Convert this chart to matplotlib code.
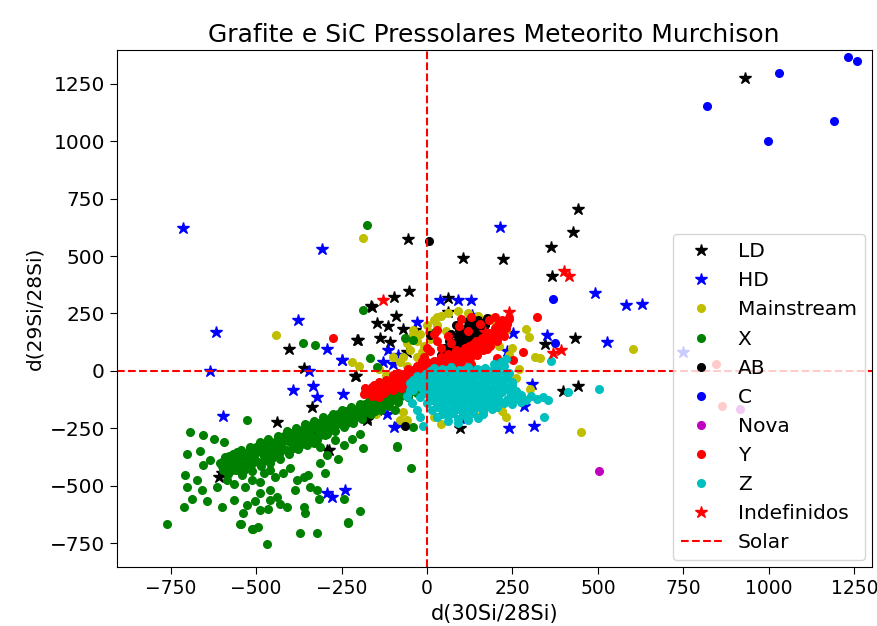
import numpy as np
import matplotlib
matplotlib.use("Agg")
import matplotlib.pyplot as plt

# d(30Si/28Si), d(29Si/28Si) pairs for each grain population

LD = [(930, 1275), (-56, 574), (106, 490), (60, 317), (-52, 348), (-96, 320),
      (-164, 283), (442, 707), (428, 605), (362, 540), (223, 486), (365, 414),
      (345, 119), (433, 141), (442, -65), (397, -87), (96, -251), (-405, 97),
      (-206, 134), (-359, 13), (-208, -22), (-337, -157), (-162, 279),
      (-91, 238), (-147, 209), (-113, 195), (-71, 184), (-35, 177), (-137, 141),
      (-201, 134), (-108, 126), (-211, -23), (62, 257), (-439, -222),
      (-342, -273), (-293, -345), (-176, -215), (-610, -462), (-599, -446),
      (-288, -345), (-176, -207), (150, 190), (120, 130), (-60, 80)]

HD = [(-713, 623), (-307, 530), (38, 308), (91, 308), (128, 308), (213, 627),
      (491, 341), (581, 286), (628, 293), (252, 166), (350, 158), (527, 126),
      (233, 87), (306, -58), (285, -154), (241, -247), (313, -240), (96, -207),
      (-617, 170), (-378, 221), (-293, 97), (-248, 47), (-634, 0), (-345, 0),
      (-391, -84), (-335, -67), (-323, -113), (-596, -197), (-293, -531),
      (-240, -520), (-279, -549), (-30, 213), (-250, 49), (-113, 90), (-84, 68),
      (131, 242), (-245, -99), (749, 81), (-147, -171), (-98, -244),
      (-118, -186), (-79, -230), (-130, 40), (-100, 30)]

MAINSTREAM = [(-186, 579), (-442, 158), (291, 182), (299, 148), (316, 61),
              (330, 55), (603, 97), (218, -176), (450, -268), (-40, 180),
              (-20, 160), (0, 200), (20, 220), (40, 240), (-60, 120),
              (-30, 130), (-10, 110), (10, 140), (30, 200), (60, 250),
              (90, 262), (120, 250), (150, 240), (180, 228), (200, 215),
              (190, 130), (210, 110), (230, 180), (250, 100), (240, 70),
              (-80, 40), (-100, 60), (-60, 20), (-30, 60), (-120, -20),
              (-140, 10), (-90, -130), (-70, -180), (-150, -190), (-180, -90),
              (-60, -215), (20, -200), (40, -230), (120, -130), (160, -190),
              (200, -90), (260, -30), (300, -80), (270, 10), (230, -200),
              (-200, 20), (-220, 40), (28, 235), (-79, -215), (55, 175),
              (-50, 90), (-15, 80), (-45, 150), (5, 170), (-70, 60)]

GRUPO_X = [(-693, -268), (-654, -280), (-624, -295), (-595, -309), (-702, -363),
           (-664, -348), (-634, -389), (-654, -411), (-707, -454), (-673, -476),
           (-702, -505), (-659, -520), (-615, -505), (-688, -556), (-644, -566),
           (-600, -592), (-710, -595), (-547, -665), (-512, -687), (-493, -679),
           (-469, -752), (-371, -708), (-322, -708), (-410, -592), (-361, -592),
           (-356, -621), (-298, -447), (-322, -520), (-317, -556), (-244, -556),
           (-196, -611), (-230, -662), (-527, -212), (-586, -476), (-566, -491),
           (-532, -505), (-512, -476), (-488, -483), (-478, -447), (-459, -430),
           (-444, -462), (-420, -447), (-400, -425), (-381, -476), (-361, -462),
           (-347, -454), (-342, -505), (-386, -520), (-459, -520), (-488, -534),
           (-503, -566), (-459, -563), (-439, -549), (-430, -578), (-464, -600),
           (-488, -607), (-527, -585), (-537, -621), (-566, -563), (-313, -403),
           (-293, -367), (-269, -302), (-244, -324), (-220, -295), (-196, -273),
           (-186, -338), (-259, -382), (-293, -273), (-332, -316), (-313, -331),
           (-761, -668), (-545, -665), (-508, -687), (-232, -658), (-47, -422),
           (-87, -328), (-87, -331), (-177, 635), (-64, 141), (-42, 134),
           (23, 170), (-167, 54), (-147, 18), (-186, 264), (-362, 122),
           (-329, 112), (-118, -99), (-94, -171), (-40, -244),
           (-605, -400), (-598, -430), (-590, -375), (-582, -448), (-575, -405),
           (-568, -362), (-560, -432), (-553, -388), (-545, -345), (-540, -455),
           (-532, -412), (-525, -368), (-518, -332), (-512, -436), (-505, -392),
           (-498, -350), (-490, -312), (-485, -415), (-478, -372), (-470, -332),
           (-465, -296), (-458, -400), (-450, -355), (-443, -316), (-437, -282),
           (-430, -382), (-423, -338), (-416, -298), (-410, -264), (-404, -360),
           (-396, -318), (-390, -280), (-383, -248), (-377, -342), (-370, -300),
           (-363, -265), (-357, -232), (-350, -322), (-343, -282), (-337, -248),
           (-330, -218), (-323, -300), (-316, -262), (-310, -232), (-303, -200),
           (-297, -280), (-290, -245), (-283, -215), (-276, -186), (-270, -262),
           (-263, -228), (-256, -198), (-250, -172), (-243, -245), (-236, -212),
           (-230, -184), (-223, -158), (-216, -228), (-210, -196), (-203, -170),
           (-196, -146), (-190, -210), (-183, -182), (-176, -156), (-170, -132),
           (-163, -190), (-156, -164), (-150, -140), (-143, -118), (-136, -172),
           (-130, -146), (-123, -124), (-117, -104), (-110, -152), (-103, -128),
           (-97, -106), (-90, -88), (-84, -134), (-77, -110), (-70, -90),
           (-64, -72), (-57, -114), (-50, -94), (-44, -74), (-37, -56),
           (-30, -96), (-24, -76), (-17, -58),
           (-600, -415), (-593, -388), (-586, -420), (-578, -372), (-571, -430),
           (-564, -395), (-556, -352), (-549, -410), (-542, -372), (-536, -430),
           (-528, -390), (-521, -350), (-514, -410), (-507, -372), (-500, -330),
           (-494, -395), (-487, -355), (-480, -318), (-474, -388), (-467, -350),
           (-460, -312), (-454, -378), (-447, -340), (-440, -300), (-433, -362),
           (-426, -322), (-419, -285), (-412, -345), (-406, -305), (-399, -270),
           (-393, -335), (-386, -295), (-380, -262), (-373, -322), (-366, -282),
           (-360, -250), (-353, -305), (-346, -265), (-340, -236), (-333, -290),
           (-326, -250), (-320, -225), (-313, -280), (-306, -240), (-300, -212),
           (-293, -262), (-286, -228), (-280, -200), (-273, -245), (-266, -212),
           (-260, -186), (-253, -230), (-246, -198), (-240, -175), (-233, -225),
           (-226, -190), (-220, -168), (-213, -210), (-206, -180), (-200, -158),
           (-193, -195), (-186, -165), (-180, -145), (-173, -175), (-166, -148),
           (-160, -128), (-153, -175), (-146, -152), (-140, -130), (-133, -158),
           (-126, -135), (-120, -115), (-113, -140), (-106, -118), (-100, -98)]

AB = [(50, 100), (65, 130), (80, 110), (90, 150), (100, 125), (110, 170),
      (115, 140), (125, 190), (130, 160), (140, 205), (145, 175), (150, 220),
      (155, 195), (160, 150), (120, 215), (95, 180), (70, 160), (105, 95),
      (135, 120), (170, 200), (175, 230), (60, 85), (40, 70), (85, 200),
      (7, 566), (-64, -241), (9, 155), (110, 150), (120, 160), (130, 180),
      (140, 150), (150, 170), (95, 140), (85, 125), (160, 175), (165, 210),
      (145, 195), (120, 195), (105, 110)]

GRUPO_C = [(1030, 1295), (820, 1153), (998, 1002), (1191, 1086), (1232, 1368),
           (1258, 1349), (369, 312), (374, 122)]

NOVA = [(503, -435), (915, -167)]

GRUPO_Y = [(-170, -95), (-160, -70), (-150, -105), (-140, -80), (-130, -55),
           (-125, -95), (-115, -70), (-105, -45), (-100, -85), (-90, -60),
           (-80, -35), (-75, -75), (-65, -50), (-55, -25), (-50, -65),
           (-40, -40), (-30, -15), (-25, -55), (-15, -30), (-5, -5), (0, 40),
           (5, -45), (10, -20), (15, 10), (20, 45), (25, -30), (30, -5),
           (35, 25), (40, 60), (45, -15), (50, 10), (55, 40), (60, 75), (70, 0),
           (75, 25), (80, 55), (85, 90), (95, 10), (100, 40), (105, 70),
           (110, 100), (120, 20), (125, 55), (130, 85), (135, 115), (145, 70),
           (150, 100), (155, 130), (165, 90), (170, 120), (175, 150),
           (185, 110), (190, 140), (195, 175), (205, 130), (210, 160),
           (215, 195), (225, 150), (230, 185), (180, 220), (155, 205),
           (120, 175), (95, 195), (60, 150), (30, 180), (20, 160), (-20, 10),
           (-40, 5), (-10, 60), (10, 85), (40, 100), (70, 120), (130, 30),
           (110, 0), (90, -10), (60, -20), (0, 100), (28, 130), (100, 225),
           (130, 235), (200, 235), (220, 220), (-276, 141), (321, 233),
           (282, 80), (251, 47), (204, 54), (175, 97), (844, 28), (863, -152),
           (-165, -80), (-155, -60), (-145, -95), (-135, -68), (-120, -85),
           (-110, -58), (-95, -72), (-85, -48), (-70, -60), (-60, -38),
           (-45, -52), (-35, -25), (-20, -42), (-10, -15), (0, 0), (5, 20),
           (15, -8), (25, 15), (32, 45), (45, 30), (50, 55), (62, 30),
           (68, 62), (78, 40), (88, 70), (92, 45), (102, 85), (108, 55),
           (115, 85), (122, 110), (128, 70), (140, 95), (142, 130), (160, 110),
           (162, 145), (178, 130), (182, 165), (192, 155), (200, 185),
           (208, 200), (220, 170), (235, 205), (240, 225), (-5, 30), (-28, 20),
           (-15, 45), (-55, 10), (-70, -15), (-85, -10), (-100, -20),
           (-120, -40), (-140, -50), (-180, -75), (-185, -100), (-160, -110),
           (-140, -115)]

GRUPO_Z = [(20, 12), (45, 6), (70, 15), (95, 4), (120, 18), (145, 8), (170, 14),
           (195, 30), (215, 40), (232, 52), (-30, -24), (-5, -14), (20, -26),
           (45, -18), (70, -28), (95, -16), (120, -24), (145, -12), (170, -22),
           (195, -14), (220, -20), (240, -8), (-50, -52), (-25, -44),
           (0, -56), (25, -48), (50, -58), (75, -46), (100, -54), (125, -44),
           (150, -56), (175, -46), (200, -52), (225, -42), (250, -50),
           (-40, -84), (-15, -76), (10, -88), (35, -78), (60, -86), (85, -74),
           (110, -84), (135, -76), (160, -88), (185, -78), (210, -84),
           (235, -76), (260, -86), (-20, -112), (5, -104), (30, -116),
           (55, -106), (80, -114), (105, -102), (130, -112), (155, -104),
           (180, -116), (205, -106), (233, -128), (262, -118), (291, -128),
           (321, -122), (355, -126), (0, -142), (25, -134), (50, -146),
           (75, -136), (100, -144), (125, -134), (150, -146), (175, -136),
           (200, -142), (225, -138), (250, -146), (275, -134), (15, -172),
           (40, -164), (65, -176), (90, -166), (115, -174), (140, -162),
           (165, -176), (190, -166), (30, -202), (60, -196), (90, -208),
           (120, -198), (150, -204), (-11, -241), (343, -203), (504, -80),
           (411, -94), (363, 44),
           (8, -2), (32, -4), (58, 2), (82, -6), (108, 4), (132, -4), (158, 2),
           (182, -2), (205, 10), (225, 22), (-40, -38), (-15, -32), (10, -40),
           (35, -34), (60, -42), (85, -32), (110, -40), (135, -30), (160, -40),
           (185, -32), (210, -36), (235, -28), (-30, -68), (-5, -62),
           (22, -70), (48, -64), (72, -70), (98, -60), (122, -68), (148, -62),
           (172, -70), (198, -64), (222, -68), (248, -62), (-10, -98),
           (18, -92), (42, -98), (68, -90), (92, -98), (118, -92), (142, -98),
           (168, -90), (192, -98), (218, -94), (245, -100), (275, -104),
           (305, -110), (338, -112), (12, -128), (38, -122), (62, -128),
           (88, -120), (112, -126), (138, -120), (162, -128), (188, -122),
           (212, -126), (238, -122), (28, -156), (52, -150), (78, -156),
           (102, -150), (128, -156), (152, -150), (178, -154), (205, -158),
           (45, -186), (75, -182), (105, -188), (135, -184), (165, -190),
           (60, -218), (90, -226), (120, -216), (-60, -110), (-45, -140),
           (-30, -170), (-20, -200), (-50, -85)]

INDEFINIDOS = [(-130, 308), (402, 436), (416, 414), (241, 257), (369, 78),
               (391, 90), (170, 170), (60, 60)]

# (label, points, plot format) in drawing order
grupos = [
    ("LD", LD, "k*"),
    ("HD", HD, "b*"),
    ("Mainstream", MAINSTREAM, "yo"),
    ("X", GRUPO_X, "go"),
    ("AB", AB, "ko"),
    ("C", GRUPO_C, "bo"),
    ("Nova", NOVA, "mo"),
    ("Y", GRUPO_Y, "ro"),
    ("Z", GRUPO_Z, "co"),
    ("Indefinidos", INDEFINIDOS, "r*"),
]

fig = plt.figure(figsize=(8.77, 6.26), dpi=100)
ax = fig.add_axes([0.133, 0.094, 0.861, 0.826])

for nome, pts, fmt in grupos:
    p = np.array(pts, dtype=float)
    ms = 9 if fmt.endswith("*") else 5.5
    ax.plot(p[:, 0], p[:, 1], fmt, markersize=ms, label=nome)

ax.axhline(0, color="r", linestyle="--", label="Solar")
ax.axvline(0, color="r", linestyle="--")

ax.set_xlim(-908, 1301)
ax.set_ylim(-855, 1397)
ax.set_xticks([-750, -500, -250, 0, 250, 500, 750, 1000, 1250])
ax.set_yticks([-750, -500, -250, 0, 250, 500, 750, 1000, 1250])
ax.tick_params(axis="y", labelsize=14.5, length=5)
ax.tick_params(axis="x", labelsize=13.5, length=5)

ax.set_title("Grafite e SiC Pressolares Meteorito Murchison", fontsize=18)
ax.set_xlabel("d(30Si/28Si)", fontsize=15)
ax.set_ylabel("d(29Si/28Si)", fontsize=14.5)
ax.legend(loc="lower right", fontsize=14.5, borderaxespad=0.35)

fig.savefig("out.png", dpi=100)
